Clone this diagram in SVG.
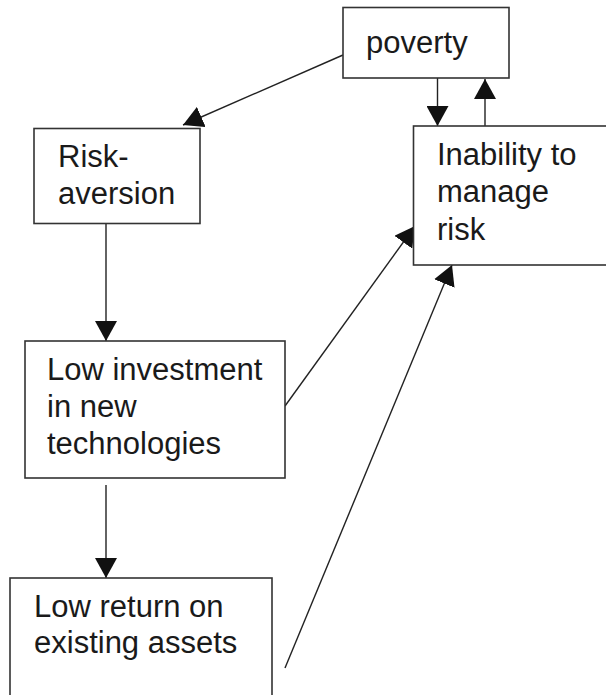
<svg xmlns="http://www.w3.org/2000/svg" width="606" height="695" viewBox="0 0 606 695">
<defs>
<marker id="arr" viewBox="0 0 20 22" refX="20" refY="11" markerWidth="20" markerHeight="22" markerUnits="userSpaceOnUse" orient="auto">
<path d="M0,0 L20,11 L0,22 z" fill="#111"/>
</marker>
<style>
.box{fill:#fff;stroke:#333;stroke-width:1.6}
.lbl{font-family:"Liberation Sans",Arial,sans-serif;font-size:31px;fill:#1a1a1a}
.c{fill:none;stroke:#222;stroke-width:1.4;marker-end:url(#arr)}
</style>
</defs>
<rect width="606" height="695" fill="#fff"/>
<g id="connectors">
<line class="c" x1="343" y1="55" x2="183" y2="125"/>
<line class="c" x1="437.5" y1="78" x2="437.5" y2="126"/>
<line class="c" x1="485" y1="126" x2="485" y2="79"/>
<line class="c" x1="106" y1="223" x2="106" y2="341"/>
<line class="c" x1="106" y1="485" x2="106" y2="578"/>
<line class="c" x1="285" y1="406" x2="415" y2="226"/>
<line class="c" x1="285" y1="668" x2="452" y2="265"/>
</g>
<g id="poverty">
<rect class="box" x="343" y="7.5" width="166" height="70.5"/>
<text class="lbl" x="366" y="53">poverty</text>
</g>
<g id="risk-aversion">
<rect class="box" x="34" y="128.5" width="166" height="95"/>
<text class="lbl" x="58" y="167">Risk-</text>
<text class="lbl" x="58" y="204">aversion</text>
</g>
<g id="inability">
<rect class="box" x="413.5" y="126" width="210" height="139"/>
<text class="lbl" x="437" y="165">Inability to</text>
<text class="lbl" x="437" y="202">manage</text>
<text class="lbl" x="437" y="240">risk</text>
</g>
<g id="low-investment">
<rect class="box" x="25" y="341" width="260" height="137"/>
<text class="lbl" x="47" y="380">Low investment</text>
<text class="lbl" x="47" y="417">in new</text>
<text class="lbl" x="47" y="454">technologies</text>
</g>
<g id="low-return">
<rect class="box" x="10" y="578" width="262" height="130"/>
<text class="lbl" x="34" y="617">Low return on</text>
<text class="lbl" x="34" y="653">existing assets</text>
</g>
</svg>
